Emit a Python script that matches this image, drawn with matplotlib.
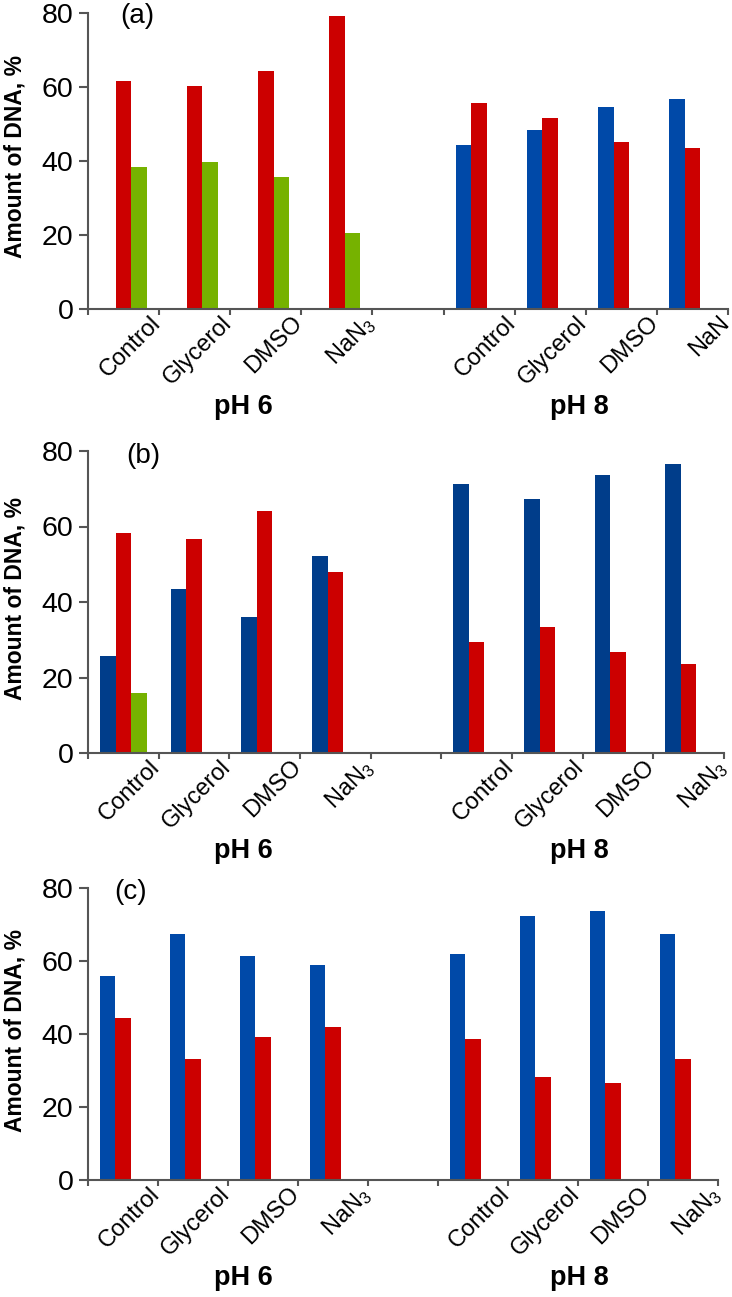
import numpy as np
import matplotlib
matplotlib.use("Agg")
import matplotlib.pyplot as plt
from matplotlib import transforms

plt.rcParams['font.family'] = ['Liberation Sans', 'DejaVu Sans']
plt.rcParams['mathtext.default'] = 'regular'

# data (nan = no bar)
nan = np.nan
categories = ['Control', 'Glycerol', 'DMSO', 'NaN$_3$']
groups = ['pH 6', 'pH 8']

a_blue = [nan, nan, nan, nan, 44.3, 48.4, 54.7, 56.7]
a_red = [61.6, 60.3, 64.3, 79.2, 55.6, 51.7, 45.2, 43.4]
a_green = [38.5, 39.8, 35.8, 20.5, nan, nan, nan, nan]

b_blue = [25.7, 43.4, 35.9, 52.3, 71.3, 67.3, 73.6, 76.6]
b_red = [58.4, 56.8, 64.2, 47.9, 29.3, 33.3, 26.7, 23.6]
b_green = [16.0, nan, nan, nan, nan, nan, nan, nan]

c_blue = [56.0, 67.3, 61.5, 58.8, 62.0, 72.4, 73.8, 67.4]
c_red = [44.5, 33.1, 39.1, 41.8, 38.6, 28.1, 26.7, 33.1]
c_green = [nan] * 8

yticks = [0, 20, 40, 60, 80]

RED = '#cc0000'
GREEN = '#76b200'
BLUE = '#0049a8'
NAVY = '#003d8a'

W, H = 732, 1297
fig = plt.figure(figsize=(W / 100, H / 100), dpi=100)

# panel boxes in pixels: left, right, top(y=80), bottom(y=0)
panels = [
    ('(a)', (88, 728, 13, 309), (a_blue, a_red, a_green), BLUE, ['Control', 'Glycerol', 'DMSO', 'NaN$_3$',
                                                                  'Control', 'Glycerol', 'DMSO', 'NaN'], (137, 16)),
    ('(b)', (88, 724, 451, 753), (b_blue, b_red, b_green), NAVY, categories * 2, (143, 456)),
    ('(c)', (88, 718, 888, 1180), (c_blue, c_red, c_green), BLUE, categories * 2, (131, 892)),
]

slots = np.r_[np.arange(4), np.arange(4) + 5] + 0.5
bw = 0.22

for letter, (l, r, t, b), (blue, red, green), bcol, labels, (lx, ly) in panels:
    ax = fig.add_axes([l / W, 1 - b / H, (r - l) / W, (b - t) / H])
    ax.bar(slots - bw, blue, bw, color=bcol, linewidth=0)
    ax.bar(slots, red, bw, color=RED, linewidth=0)
    ax.bar(slots + bw, green, bw, color=GREEN, linewidth=0)
    ax.set_xlim(0, 9)
    ax.set_ylim(0, 80)
    ax.set_yticks(yticks)
    ax.set_xticks(np.arange(10))
    ax.set_xticklabels([])
    for s in ['top', 'right']:
        ax.spines[s].set_visible(False)
    for s in ['left', 'bottom']:
        ax.spines[s].set_color('#555555')
        ax.spines[s].set_linewidth(1.5)
    ax.tick_params(axis='y', length=6.5, width=1.5, color='#555555', labelsize=20.5, pad=4)
    ax.tick_params(axis='x', length=4.5, width=1.5, color='#555555')

    trans = transforms.blended_transform_factory(ax.transData, ax.transAxes)
    for x, lab in zip(slots, labels):
        ax.annotate(lab, xy=(x + 0.5, 0), xycoords=trans, xytext=(-7, -2),
                    textcoords='offset points', rotation=45, rotation_mode='anchor',
                    ha='right', va='top', fontsize=17)

    fig.text(15 / W, 1 - ((t + b) / 2 - 4) / H, 'Amount of DNA, %', rotation=90,
             ha='center', va='center', fontsize=16.5, fontweight='bold')
    fig.text(lx / W, 1 - ly / H, letter, ha='center', va='center', fontsize=20)
    for gx, g in zip([243, 579], groups):
        fig.text(gx / W, 1 - (b + 98) / H, g, ha='center', va='center',
                 fontsize=19.5, fontweight='bold')

fig.savefig('out.png', dpi=100)
